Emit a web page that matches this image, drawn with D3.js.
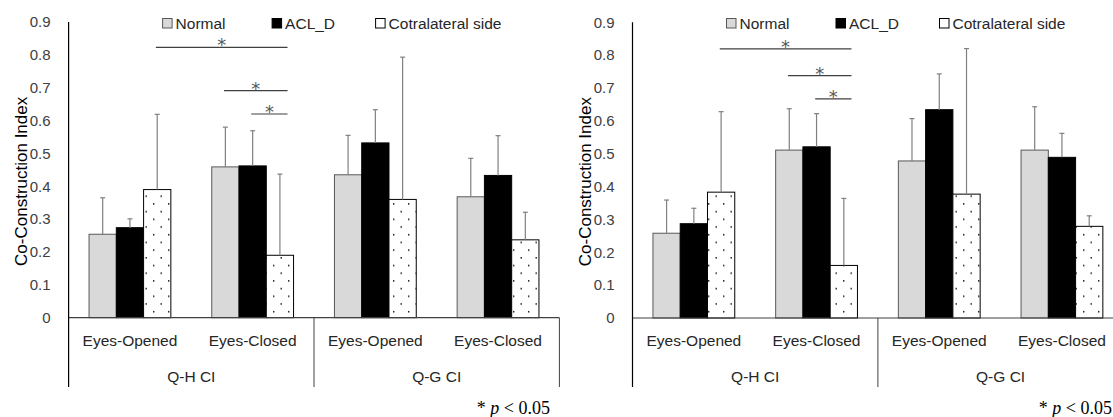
<!DOCTYPE html>
<html>
<head>
<meta charset="utf-8">
<script src="https://cdn.jsdelivr.net/npm/d3@7"></script>
<style>
  body { margin: 0; background: #fff; }
  svg { display: block; font-family: "Liberation Sans", Arial, sans-serif; }
</style>
</head>
<body>
<div id="chart"></div>
<script>
// categories
const groups = ["Q-H CI", "Q-G CI"];
const conditions = ["Eyes-Opened", "Eyes-Closed"];
const seriesNames = ["Normal", "ACL_D", "Cotralateral side"];
const yTicks = [0, 0.1, 0.2, 0.3, 0.4, 0.5, 0.6, 0.7, 0.8, 0.9];

// left panel: means and SD (order: QH-EO, QH-EC, QG-EO, QG-EC)
const leftNormal = [0.254, 0.459, 0.435, 0.368];
const leftNormalSD = [0.111, 0.121, 0.120, 0.117];
const leftACL = [0.274, 0.462, 0.532, 0.433];
const leftACLSD = [0.027, 0.107, 0.101, 0.121];
const leftContra = [0.390, 0.190, 0.360, 0.237];
const leftContraSD = [0.229, 0.247, 0.433, 0.084];

// right panel
const rightNormal = [0.258, 0.511, 0.478, 0.511];
const rightNormalSD = [0.101, 0.126, 0.129, 0.132];
const rightACL = [0.287, 0.521, 0.634, 0.489];
const rightACLSD = [0.047, 0.101, 0.109, 0.073];
const rightContra = [0.383, 0.160, 0.377, 0.279];
const rightContraSD = [0.245, 0.204, 0.443, 0.032];

// significance brackets: [fromCat, fromSeries, toCat, toSeries, level]
const leftSig = [[0, 2, 1, 2, 0.823], [1, 0, 1, 2, 0.691], [1, 1, 1, 2, 0.620]];
const rightSig = [[0, 2, 1, 2, 0.819], [1, 0, 1, 2, 0.738], [1, 1, 1, 2, 0.667]];

const W = 1113, H = 417;
const fills = ["#d9d9d9", "#000000", "url(#dots)"];
const strokes = ["#595959", "#000000", "#000000"];

const svg = d3.select("#chart").append("svg")
    .attr("width", W)
    .attr("height", H);

// dotted pattern for contralateral side
const pat = svg.append("defs").append("pattern")
    .attr("id", "dots")
    .attr("patternUnits", "userSpaceOnUse")
    .attr("width", 15)
    .attr("height", 15.4);
pat.append("rect").attr("width", 15).attr("height", 15.4).attr("fill", "#fff");
pat.append("rect").attr("x", 3).attr("y", 3).attr("width", 1.4).attr("height", 1.4).attr("fill", "#000");
pat.append("rect").attr("x", 10.5).attr("y", 10.7).attr("width", 1.4).attr("height", 1.4).attr("fill", "#000");

function drawPanel(left, yZero, means, sds, sig) {
    const right = left + 490.8;
    const bottom = 387;

    const catKeys = [];
    groups.forEach(g => conditions.forEach(c => catKeys.push(g + "|" + c)));

    const x0 = d3.scaleBand().domain(catKeys).range([left, right]);
    const x1 = d3.scaleBand().domain(d3.range(seriesNames.length))
        .range([0, x0.bandwidth()])
        .paddingInner(0)
        .paddingOuter(0.75);
    const y = d3.scaleLinear().domain([0, 0.9]).range([yZero, yZero - 295.7]);

    const g = svg.append("g");

    // y axis labels
    const yAxis = d3.axisLeft(y)
        .tickValues(yTicks)
        .tickSize(0)
        .tickPadding(18)
        .tickFormat(d => d === 0 ? "0" : d3.format(".1f")(d));
    const ya = g.append("g")
        .attr("transform", "translate(" + left + ",0)")
        .call(yAxis);
    ya.select(".domain").remove();
    ya.selectAll("text")
        .attr("font-size", 15)
        .attr("fill", "#404040")
        .attr("font-family", "Liberation Sans, Arial, sans-serif");

    // axis title
    g.append("text")
        .attr("transform", "translate(" + (left - 42) + "," + y(0.415) + ") rotate(-90)")
        .attr("text-anchor", "middle")
        .attr("font-size", 17)
        .attr("fill", "#000")
        .text("Co-Construction Index");

    // bars
    seriesNames.forEach((s, si) => {
        const data = means[si].map((v, i) => ({ key: catKeys[i], v: v, sd: sds[si][i] }));
        g.selectAll(".bar" + si)
            .data(data)
            .enter()
            .append("rect")
            .attr("x", d => x0(d.key) + x1(si))
            .attr("y", d => y(d.v))
            .attr("width", x1.bandwidth())
            .attr("height", d => y(0) - y(d.v))
            .attr("fill", fills[si])
            .attr("stroke", strokes[si])
            .attr("stroke-width", 1);

        // error bars (upper only)
        const eb = g.selectAll(".err" + si)
            .data(data)
            .enter()
            .append("g")
            .attr("stroke", "#808080")
            .attr("stroke-width", 1.2);
        eb.append("line")
            .attr("x1", d => x0(d.key) + x1(si) + x1.bandwidth() / 2)
            .attr("x2", d => x0(d.key) + x1(si) + x1.bandwidth() / 2)
            .attr("y1", d => y(d.v))
            .attr("y2", d => y(d.v + d.sd));
        eb.append("line")
            .attr("x1", d => x0(d.key) + x1(si) + x1.bandwidth() / 2 - 2.5)
            .attr("x2", d => x0(d.key) + x1(si) + x1.bandwidth() / 2 + 2.5)
            .attr("y1", d => y(d.v + d.sd))
            .attr("y2", d => y(d.v + d.sd));
    });

    // x axis line
    g.append("line")
        .attr("x1", left).attr("x2", right)
        .attr("y1", y(0)).attr("y2", y(0))
        .attr("stroke", "#404040").attr("stroke-width", 1.2);
    // y axis line
    g.append("line")
        .attr("x1", left).attr("x2", left)
        .attr("y1", y(0.9)).attr("y2", bottom)
        .attr("stroke", "#000").attr("stroke-width", 1.2);
    // group dividers
    groups.forEach((grp, gi) => {
        const xe = x0(grp + "|" + conditions[conditions.length - 1]) + x0.bandwidth();
        g.append("line")
            .attr("x1", xe).attr("x2", xe)
            .attr("y1", y(0)).attr("y2", bottom)
            .attr("stroke", "#404040").attr("stroke-width", 1);
    });

    // level 1 labels
    const xAxis = d3.axisBottom(x0).tickSize(0).tickPadding(17)
        .tickFormat(d => d.split("|")[1]);
    const xa = g.append("g")
        .attr("transform", "translate(0," + y(0) + ")")
        .call(xAxis);
    xa.select(".domain").remove();
    xa.selectAll("text")
        .attr("font-size", 15.5)
        .attr("fill", "#262626")
        .attr("font-family", "Liberation Sans, Arial, sans-serif");

    // level 2 labels
    groups.forEach(grp => {
        const a = x0(grp + "|" + conditions[0]);
        const b = x0(grp + "|" + conditions[conditions.length - 1]) + x0.bandwidth();
        g.append("text")
            .attr("x", (a + b) / 2)
            .attr("y", 382)
            .attr("text-anchor", "middle")
            .attr("font-size", 15.5)
            .attr("fill", "#262626")
            .text(grp);
    });

    // significance brackets
    sig.forEach(sg => {
        const xa1 = x0(catKeys[sg[0]]) + x1(sg[1]) + x1.bandwidth() * 0.45;
        const xb1 = x0(catKeys[sg[2]]) + x1(sg[3]) + x1.bandwidth() * 0.78;
        g.append("line")
            .attr("x1", xa1).attr("x2", xb1)
            .attr("y1", y(sg[4])).attr("y2", y(sg[4]))
            .attr("stroke", "#404040").attr("stroke-width", 1.2);
        g.append("text")
            .attr("x", (xa1 + xb1) / 2)
            .attr("y", y(sg[4]) + 4)
            .attr("text-anchor", "middle")
            .attr("font-family", "DejaVu Sans, sans-serif")
            .attr("font-size", 18)
            .attr("fill", "#595959")
            .text("*");
    });

    // legend
    const legX = [94, 203.5, 307];
    seriesNames.forEach((s, si) => {
        g.append("rect")
            .attr("x", left + legX[si])
            .attr("y", 18.5)
            .attr("width", 9.5)
            .attr("height", 9.5)
            .attr("fill", si === 2 ? "#fff" : fills[si])
            .attr("stroke", strokes[si])
            .attr("stroke-width", 1);
        g.append("text")
            .attr("x", left + legX[si] + 13)
            .attr("y", 29)
            .attr("font-size", 15.5)
            .attr("fill", "#262626")
            .text(s);
    });

    // footnote
    const fn = g.append("text")
        .attr("x", Math.min(right - 9.5, W - 1))
        .attr("y", 414)
        .attr("text-anchor", "end")
        .attr("font-family", "Liberation Serif, Times New Roman, serif")
        .attr("font-size", 18);
    fn.append("tspan").text("* ");
    fn.append("tspan").attr("font-style", "italic").text("p");
    fn.append("tspan").text(" < 0.05");
}

drawPanel(68.6, 317.7, [leftNormal, leftACL, leftContra], [leftNormalSD, leftACLSD, leftContraSD], leftSig);
drawPanel(632.5, 318, [rightNormal, rightACL, rightContra], [rightNormalSD, rightACLSD, rightContraSD], rightSig);
</script>
</body>
</html>
